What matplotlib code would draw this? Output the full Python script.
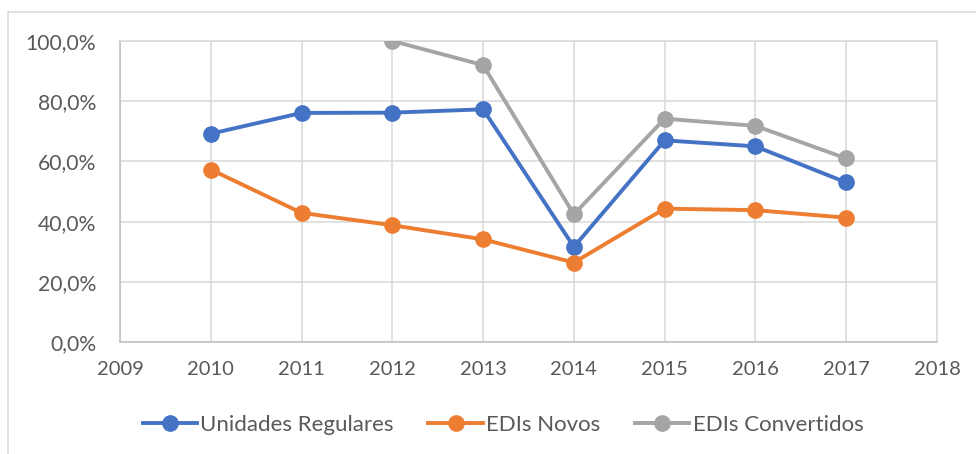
import numpy as np
import matplotlib
matplotlib.use("Agg")
import matplotlib.pyplot as plt
from matplotlib.lines import Line2D

plt.rcParams["font.family"] = ["Lato", "DejaVu Sans"]

years = [2010, 2011, 2012, 2013, 2014, 2015, 2016, 2017]
unidades_regulares = [69.2, 76.1, 76.2, 77.3, 31.6, 67.0, 65.0, 53.0]
edis_novos = [57.3, 42.9, 38.8, 34.1, 26.4, 44.3, 43.8, 41.3]
edis_convertidos = [np.nan, np.nan, 100.0, 92.0, 42.4, 74.2, 71.8, 61.0]

series_names = ["Unidades Regulares", "EDIs Novos", "EDIs Convertidos"]
colors = ["#4472C4", "#ED7D31", "#A5A5A5"]

text_color = "#595959"
grid_color = "#D9D9D9"

fig = plt.figure(figsize=(9.76, 4.54), dpi=100)
ax = fig.add_axes([120 / 976, 1 - 342 / 454, (937 - 120) / 976, (342 - 41) / 454])

for vals, name, c in zip([unidades_regulares, edis_novos, edis_convertidos], series_names, colors):
    ax.plot(years, vals, color=c, lw=2.8, marker="o", markersize=11,
            label=name, solid_capstyle="round", zorder=3)

ax.set_xlim(2009, 2018)
ax.set_ylim(0, 100)
ax.set_xticks(range(2009, 2019))
ax.set_yticks(range(0, 101, 20))
ax.set_yticklabels([f"{v},0%" for v in range(0, 101, 20)])

ax.grid(True, color=grid_color, lw=1.1, zorder=0)
ax.set_axisbelow(True)
for side in ["top", "right"]:
    ax.spines[side].set_color(grid_color)
    ax.spines[side].set_linewidth(1.1)
for side in ["left", "bottom"]:
    ax.spines[side].set_color("#BFBFBF")
    ax.spines[side].set_linewidth(1.1)

ax.tick_params(axis="both", length=0, labelsize=14.5, colors=text_color)
ax.tick_params(axis="y", pad=17, labelsize=15.2)
ax.tick_params(axis="x", pad=14)

handles = [Line2D([0], [0], color=c, lw=2.8, marker="o", markersize=11) for c in colors]
leg = fig.legend(handles, series_names, loc="center", bbox_to_anchor=(503 / 976, 1 - 425 / 454),
                 ncol=3, frameon=False, fontsize=16, handlelength=2.45,
                 handletextpad=0.15, columnspacing=1.55)
for t in leg.get_texts():
    t.set_color(text_color)

# chart area border (top and left visible)
fig.add_artist(Line2D([8 / 976, 1], [1 - 12 / 454, 1 - 12 / 454], color=grid_color, lw=1.1,
                      transform=fig.transFigure))
fig.add_artist(Line2D([8 / 976, 8 / 976], [0, 1 - 12 / 454], color=grid_color, lw=1.1,
                      transform=fig.transFigure))

fig.savefig("out.png", dpi=100)
